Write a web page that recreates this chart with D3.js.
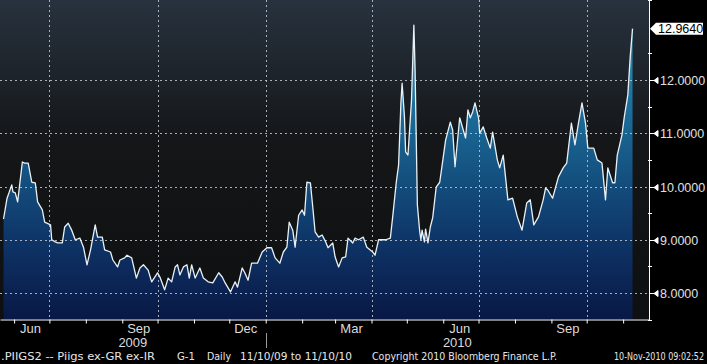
<!DOCTYPE html>
<html>
<head>
<meta charset="utf-8">
<script src="https://cdn.jsdelivr.net/npm/d3@7"></script>
<style>
  body { margin: 0; background: #000; }
  svg { display: block; }
</style>
</head>
<body>
<svg id="chart" width="707" height="364"></svg>
<script>
// PIIGS2 index, daily closes
const dates = [
  "2009-05-23","2009-05-26","2009-05-30","2009-05-31","2009-06-02","2009-06-04","2009-06-08","2009-06-10",
  "2009-06-13","2009-06-16","2009-06-19","2009-06-21","2009-06-25","2009-06-27","2009-07-02","2009-07-03",
  "2009-07-06","2009-07-08","2009-07-12","2009-07-14","2009-07-17","2009-07-20","2009-07-23","2009-07-27",
  "2009-07-30","2009-08-02","2009-08-05","2009-08-09","2009-08-11","2009-08-15","2009-08-17","2009-08-22",
  "2009-08-24","2009-08-28","2009-08-30","2009-09-03","2009-09-05","2009-09-09","2009-09-13","2009-09-16",
  "2009-09-19","2009-09-23","2009-09-26","2009-10-01","2009-10-03","2009-10-07","2009-10-10","2009-10-13",
  "2009-10-16","2009-10-18","2009-10-20","2009-10-23","2009-10-26","2009-10-28","2009-10-30","2009-11-02",
  "2009-11-06","2009-11-09","2009-11-13","2009-11-17","2009-11-22","2009-11-25","2009-11-27","2009-12-02",
  "2009-12-06","2009-12-08","2009-12-12","2009-12-14","2009-12-17","2009-12-20","2009-12-25","2009-12-29",
  "2010-01-02","2010-01-06","2010-01-09","2010-01-13","2010-01-16","2010-01-19","2010-01-21","2010-01-24",
  "2010-01-26","2010-01-29","2010-02-01","2010-02-03","2010-02-05","2010-02-08","2010-02-10","2010-02-12",
  "2010-02-15","2010-02-18","2010-02-21","2010-02-23","2010-02-27","2010-03-01","2010-03-04","2010-03-07",
  "2010-03-10","2010-03-12","2010-03-16","2010-03-18","2010-03-21","2010-03-25","2010-03-28","2010-04-02",
  "2010-04-04","2010-04-07","2010-04-10","2010-04-13","2010-04-17","2010-04-19","2010-04-22","2010-04-24",
  "2010-04-26","2010-04-27","2010-04-29","2010-04-30","2010-05-02","2010-05-05","2010-05-07","2010-05-08",
  "2010-05-10","2010-05-12","2010-05-13","2010-05-14","2010-05-16","2010-05-17","2010-05-19","2010-05-21",
  "2010-05-23","2010-05-26","2010-05-29","2010-06-01","2010-06-03","2010-06-07","2010-06-09","2010-06-11",
  "2010-06-15","2010-06-18","2010-06-20","2010-06-22","2010-06-24","2010-06-26","2010-06-28","2010-07-01",
  "2010-07-02","2010-07-05","2010-07-08","2010-07-11","2010-07-13","2010-07-17","2010-07-19","2010-07-22",
  "2010-07-26","2010-07-30","2010-08-03","2010-08-07","2010-08-10","2010-08-11","2010-08-14","2010-08-17",
  "2010-08-21","2010-08-25","2010-08-27","2010-08-29","2010-09-02","2010-09-07","2010-09-11","2010-09-14",
  "2010-09-18","2010-09-21","2010-09-24","2010-09-27","2010-09-30","2010-10-02","2010-10-07","2010-10-10",
  "2010-10-14","2010-10-17","2010-10-19","2010-10-23","2010-10-25","2010-10-27","2010-10-31","2010-11-02",
  "2010-11-05","2010-11-07","2010-11-09"
];
const values = [
  9.39, 9.78, 10.03, 9.90, 9.88, 9.71, 10.46, 10.44,
  10.44, 10.08, 10.07, 9.71, 9.56, 9.33, 9.28, 9.00,
  8.96, 8.94, 8.94, 9.24, 9.31, 9.18, 9.00, 9.03,
  8.86, 8.53, 8.81, 9.28, 9.05, 9.05, 8.81, 8.77,
  8.62, 8.49, 8.62, 8.66, 8.71, 8.66, 8.28, 8.47,
  8.53, 8.43, 8.21, 8.38, 8.30, 8.06, 8.28, 8.21,
  8.49, 8.53, 8.34, 8.49, 8.53, 8.28, 8.53, 8.28,
  8.47, 8.28, 8.21, 8.19, 8.38, 8.30, 8.21, 8.02,
  8.21, 8.11, 8.47, 8.39, 8.24, 8.56, 8.56, 8.77,
  8.85, 8.85, 8.66, 8.56, 8.77, 8.86, 9.33, 9.18,
  8.86, 9.46, 9.56, 9.46, 10.08, 10.07, 9.62, 9.15,
  9.05, 9.09, 8.96, 8.85, 8.94, 8.68, 8.49, 8.66,
  8.68, 9.03, 8.94, 9.03, 9.00, 9.05, 8.86, 8.77,
  8.71, 9.00, 9.00, 9.00, 9.03, 9.43, 10.07, 10.40,
  11.57, 11.94, 11.31, 10.65, 10.59, 11.62, 13.03, 12.24,
  9.65, 9.15, 9.00, 9.18, 8.96, 9.20, 8.94, 9.24,
  9.41, 9.99, 10.08, 10.55, 10.87, 11.21, 11.06, 10.37,
  11.29, 11.06, 10.91, 11.44, 11.29, 11.40, 11.57, 11.29,
  11.00, 11.12, 10.91, 10.72, 11.02, 10.50, 10.35, 10.59,
  9.75, 9.78, 9.43, 9.18, 9.56, 9.69, 9.75, 9.28,
  9.43, 9.75, 9.97, 9.93, 9.78, 10.18, 10.35, 10.44,
  11.19, 10.78, 11.19, 11.57, 11.19, 10.72, 10.72, 10.50,
  10.44, 9.75, 10.35, 10.07, 10.07, 10.59, 10.97, 11.31,
  11.72, 12.43, 12.964
];
const yTicks = [8, 9, 10, 11, 12];
const yMinor = [7.5, 8.5, 9.5, 10.5, 11.5, 12.5, 13.5];
const lastValueLabel = "12.9640";

const svg = d3.select("#chart");
const W = 649, H = 319;
const parse = d3.timeParse("%Y-%m-%d");
const data = dates.map((d, i) => ({ date: parse(d), value: values[i] }));

const x = d3.scaleTime()
  .domain([new Date(2009, 4, 20), new Date(2010, 10, 23)])
  .range([0, W]);
const y = d3.scaleLinear().domain([7.512, 13.502]).range([H, 0]);

const defs = svg.append("defs");
const bg = defs.append("linearGradient").attr("id", "bg")
  .attr("gradientUnits", "userSpaceOnUse").attr("x1", 0).attr("y1", 0).attr("x2", 0).attr("y2", H);
bg.append("stop").attr("offset", 0).attr("stop-color", "#27323e");
bg.append("stop").attr("offset", 0.45).attr("stop-color", "#141618");
bg.append("stop").attr("offset", 1).attr("stop-color", "#0e0f11");

const fill = defs.append("linearGradient").attr("id", "fill")
  .attr("gradientUnits", "userSpaceOnUse").attr("x1", 0).attr("y1", 0).attr("x2", 0).attr("y2", H);
fill.append("stop").attr("offset", 0).attr("stop-color", "#48a9cf");
fill.append("stop").attr("offset", 0.25).attr("stop-color", "#1f7aa6");
fill.append("stop").attr("offset", 0.5).attr("stop-color", "#165886");
fill.append("stop").attr("offset", 0.75).attr("stop-color", "#0e3568");
fill.append("stop").attr("offset", 1).attr("stop-color", "#091845");

defs.append("clipPath").attr("id", "plot").append("rect").attr("width", W).attr("height", H);

svg.append("rect").attr("width", W).attr("height", H).attr("fill", "url(#bg)");

const plot = svg.append("g").attr("clip-path", "url(#plot)");

plot.append("path").datum(data)
  .attr("fill", "url(#fill)")
  .attr("d", d3.area().x(d => x(d.date)).y0(H).y1(d => y(d.value)));

// dotted grid, drawn over the fill like the terminal does
const gridStyle = sel => sel.attr("stroke", "#c4c8cc").attr("stroke-opacity", 0.85)
  .attr("stroke-width", 1).attr("stroke-dasharray", "2,3");
plot.selectAll(".hg").data(yTicks).join("line")
  .attr("x1", 0).attr("x2", W)
  .attr("y1", d => Math.round(y(d)) + 0.5).attr("y2", d => Math.round(y(d)) + 0.5)
  .call(gridStyle);
const quarters = d3.timeMonth.range(x.domain()[0], x.domain()[1]).filter(d => d.getMonth() % 3 === 0);
plot.selectAll(".vg").data(quarters).join("line")
  .attr("x1", d => Math.round(x(d)) + 0.5).attr("x2", d => Math.round(x(d)) + 0.5)
  .attr("y1", 0).attr("y2", H)
  .call(gridStyle);

plot.append("path").datum(data)
  .attr("fill", "none").attr("stroke", "#e9f1f6").attr("stroke-width", 1.3)
  .attr("stroke-linejoin", "round")
  .attr("d", d3.line().x(d => x(d.date)).y(d => y(d.value)));

// bottom axis: month ticks
const xAxis = d3.axisBottom(x).ticks(d3.timeMonth.every(1)).tickFormat("").tickSize(4).tickSizeOuter(0);
const gx = svg.append("g").attr("transform", `translate(0,${H + 0.5})`).call(xAxis);
gx.select(".domain").attr("stroke", "#fff");
gx.selectAll(".tick line").attr("stroke", "#fff");

const months = d3.timeMonth.range(x.domain()[0], x.domain()[1]).filter(d => d.getMonth() % 3 === 2);
svg.selectAll(".ml").data(months).join("text")
  .attr("x", d => x(new Date(d.getFullYear(), d.getMonth(), 15)))
  .attr("y", 333)
  .attr("text-anchor", "middle")
  .attr("fill", "#dcdcdc")
  .attr("font-family", "Liberation Sans, Arial, sans-serif")
  .attr("font-size", 13)
  .text(d3.timeFormat("%b"));

const yearStart = new Date(2010, 0, 1);
svg.append("line")
  .attr("x1", Math.round(x(yearStart)) + 0.5).attr("x2", Math.round(x(yearStart)) + 0.5)
  .attr("y1", 333).attr("y2", 348).attr("stroke", "#9a9a9a");
const years = [[x.domain()[0], yearStart], [yearStart, x.domain()[1]]];
svg.selectAll(".yl").data(years).join("text")
  .attr("x", d => (x(d[0]) + x(d[1])) / 2)
  .attr("y", 347)
  .attr("text-anchor", "middle")
  .attr("fill", "#dcdcdc")
  .attr("font-family", "Liberation Sans, Arial, sans-serif")
  .attr("font-size", 13)
  .text(d => d[0].getFullYear() < 2010 ? "2009" : "2010");

// right axis
svg.append("line").attr("x1", W + 0.5).attr("x2", W + 0.5).attr("y1", 0).attr("y2", H + 1)
  .attr("stroke", "#fff");
svg.selectAll(".mn").data(yMinor).join("line")
  .attr("x1", W - 1).attr("x2", W + 3)
  .attr("y1", d => Math.round(y(d)) + 0.5).attr("y2", d => Math.round(y(d)) + 0.5)
  .attr("stroke", "#fff");
const yt = svg.selectAll(".yt").data(yTicks).join("g")
  .attr("transform", d => `translate(${W},${Math.round(y(d)) + 0.5})`);
yt.append("path").attr("d", "M1,0 L5,0 L9,-3 L9,3 L5,0").attr("fill", "#fff").attr("stroke", "#fff").attr("stroke-width", 1);
yt.append("text")
  .attr("x", 11).attr("dy", "0.36em")
  .attr("fill", "#e0e0e0")
  .attr("font-family", "Liberation Sans, Arial, sans-serif")
  .attr("font-size", 12.5)
  .text(d => d.toFixed(4));

// last value tag
const last = data[data.length - 1];
const ly = y(last.value);
const tag = svg.append("g").attr("transform", `translate(${W + 1},${ly})`);
tag.append("path").attr("d", "M0,0 L6,-6 L53,-6 L53,6 L6,6 Z").attr("fill", "#fff");
tag.append("text")
  .attr("x", 8).attr("dy", "0.36em")
  .attr("fill", "#000")
  .attr("font-family", "Liberation Sans, Arial, sans-serif")
  .attr("font-size", 12.5)
  .text(lastValueLabel);

// footer: [anchor x, fitted width, text, anchor]
const footer = [
  [1, 154, ".PIIGS2 -- Piigs ex-GR ex-IR", "start"],
  [177, 18, "G-1", "start"],
  [207, 24, "Daily", "start"],
  [240, 112, "11/10/09 to 11/10/10", "start"],
  [372, 185, "Copyright 2010 Bloomberg Finance L.P.", "start"],
  [704, 90, "10-Nov-2010 09:02:52", "end"]
];
svg.selectAll(".ft").data(footer).join("text")
  .attr("x", d => d[0]).attr("y", 360)
  .attr("text-anchor", d => d[3])
  .attr("textLength", d => d[1]).attr("lengthAdjust", "spacingAndGlyphs")
  .attr("fill", "#e6e6e6")
  .attr("font-family", "Liberation Sans Narrow, DejaVu Sans Condensed, sans-serif")
  .attr("font-size", 11)
  .text(d => d[2]);
</script>
</body>
</html>
